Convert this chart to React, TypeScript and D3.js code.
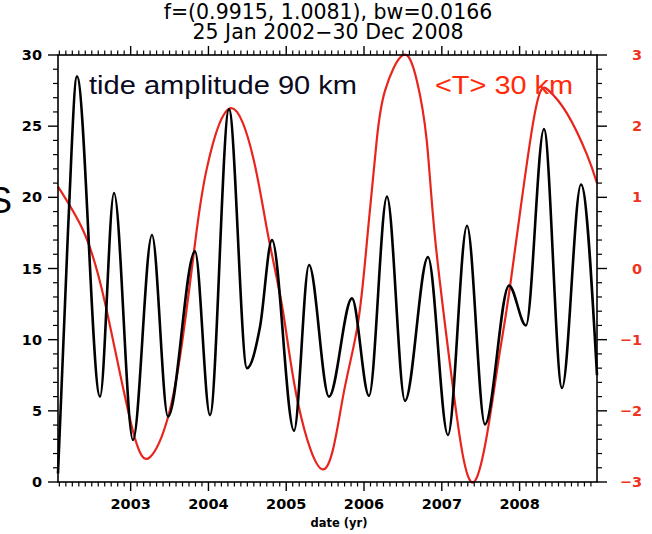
import React from "react";
import * as d3 from "d3";

// ---- data ----
const blackYears = [2002.066, 2002.195, 2002.310, 2002.606, 2002.786, 2003.030, 2003.274, 2003.480, 2003.827, 2004.020, 2004.264, 2004.496, 2004.663, 2004.817, 2005.100, 2005.293, 2005.550, 2005.845, 2006.064, 2006.295, 2006.527, 2006.822, 2007.079, 2007.324, 2007.555, 2007.864, 2008.082, 2008.313, 2008.545, 2008.789, 2008.995];
const tideAmplitude = [0.6, 17.7, 28.5, 6.0, 20.3, 2.95, 17.35, 4.6, 16.2, 4.7, 26.2, 8.0, 10.9, 17.0, 3.6, 15.25, 6.0, 12.9, 6.05, 20.05, 5.7, 15.8, 3.3, 18.0, 4.05, 13.8, 11.0, 24.8, 6.6, 20.9, 7.5];

const redYears = [2002.066, 2002.387, 2002.670, 2003.017, 2003.249, 2003.480, 2003.660, 2003.827, 2003.978, 2004.277, 2004.577, 2004.766, 2004.958, 2005.151, 2005.485, 2005.730, 2005.922, 2006.051, 2006.163, 2006.270, 2006.501, 2006.677, 2006.806, 2006.912, 2007.131, 2007.414, 2007.709, 2007.876, 2008.172, 2008.365, 2008.609, 2008.866, 2008.995];
const meanTemp = [1.15, 0.54, -0.48, -2.23, -2.65, -2.09, -1.05, 0.35, 1.4, 2.25, 1.55, 0.47, -0.6, -1.89, -2.82, -1.80, -0.77, 0.54, 1.8, 2.5, 3.0, 2.65, 1.8, 0.44, -1.57, -3.0, -1.43, -0.26, 2.04, 2.51, 2.18, 1.6, 1.2];

const leftTicks = [0, 5, 10, 15, 20, 25, 30];
const rightTicks = [-3, -2, -1, 0, 1, 2, 3];
const yearTicks = [2003, 2004, 2005, 2006, 2007, 2008];
const titleLines = ["f=(0.9915, 1.0081), bw=0.0166", "25 Jan 2002\u221230 Dec 2008"];
const xLabel = "date (yr)";
const leftLabel = "tide amplitude 90 km";
const rightLabel = "<T> 30 km";

export default function App() {
  const W = 652, H = 534;
  const L = 58, R = 597, T = 55, B = 482;
  const x = d3.scaleLinear().domain([2002.066, 2008.995]).range([L, R]);
  const yL = d3.scaleLinear().domain([0, 30]).range([B, T]);
  const yR = d3.scaleLinear().domain([-3, 3]).range([B, T]);

  const blackLine = d3.line<number>()
    .x((_, i) => x(blackYears[i]))
    .y((d) => yL(d))
    .curve(d3.curveMonotoneX)(tideAmplitude) || "";
  const redLine = d3.line<number>()
    .x((_, i) => x(redYears[i]))
    .y((d) => yR(d))
    .curve(d3.curveNatural)(meanTemp) || "";

  const monthTicks = d3.range(2002 * 12 + 1, 2009 * 12)
    .map((m) => m / 12)
    .filter((t) => t > 2002.066 && t < 2008.995 && Math.abs(t - Math.round(t)) > 1e-6);
  const leftMinor = d3.range(1, 30).filter((v) => v % 5 !== 0);
  const rightMinor = d3.range(-14, 15).map((k) => k / 5).filter((v) => Math.abs(v - Math.round(v)) > 1e-6);

  const tickFont = "'DejaVu Sans', Verdana, sans-serif";
  const red = "#ee3322";

  return (
    <svg width={W} height={H} style={{ position: "absolute", left: 0, top: 0, background: "#fff" }}>
      <rect x={0} y={0} width={W} height={H} fill="#fff" />
      {/* title */}
      {titleLines.map((t, i) => (
        <text key={i} x={328} y={19 + i * 20} textAnchor="middle" fontFamily={tickFont} fontSize={20.5} fill="#000">{t}</text>
      ))}
      {/* clipped left S */}
      <text x={12} y={213} textAnchor="end" fontFamily="'Liberation Sans', Arial, sans-serif" fontSize={36} fill="#000">S</text>

      {/* curves */}
      <path d={redLine} fill="none" stroke="#e8251c" strokeWidth={2.2} />
      <path d={blackLine} fill="none" stroke="#000" strokeWidth={2.6} />

      {/* frame */}
      <rect x={L} y={T} width={R - L} height={B - T} fill="none" stroke="#000" strokeWidth={1.6} />

      {/* bottom & top ticks */}
      {monthTicks.map((t, i) => (
        <g key={"m" + i}>
          <line x1={x(t)} x2={x(t)} y1={B} y2={B + 4.5} stroke="#000" strokeWidth={1.2} />
          <line x1={x(t)} x2={x(t)} y1={T} y2={T - 4.5} stroke="#000" strokeWidth={1.2} />
        </g>
      ))}
      {yearTicks.map((t) => (
        <g key={"y" + t}>
          <line x1={x(t)} x2={x(t)} y1={B} y2={B + 9} stroke="#000" strokeWidth={1.4} />
          <line x1={x(t)} x2={x(t)} y1={T} y2={T - 9} stroke="#000" strokeWidth={1.4} />
          <text x={x(t)} y={509} textAnchor="middle" fontFamily={tickFont} fontWeight="bold" fontSize={14.5} fill="#000">{t}</text>
        </g>
      ))}
      <text x={339} y={527} textAnchor="middle" fontFamily={tickFont} fontWeight="bold" fontSize={11.5} fill="#000">{xLabel}</text>

      {/* left axis */}
      {leftMinor.map((v) => (
        <line key={"lm" + v} x1={L} x2={L - 5} y1={yL(v)} y2={yL(v)} stroke="#000" strokeWidth={1.2} />
      ))}
      {leftTicks.map((v) => (
        <g key={"l" + v}>
          <line x1={L} x2={L - 10} y1={yL(v)} y2={yL(v)} stroke="#000" strokeWidth={1.4} />
          <text x={42} y={yL(v) + 5} textAnchor="end" fontFamily={tickFont} fontWeight="bold" fontSize={14.5} fill="#000">{v}</text>
        </g>
      ))}

      {/* right axis */}
      {rightMinor.map((v, i) => (
        <line key={"rm" + i} x1={R} x2={R + 5} y1={yR(v)} y2={yR(v)} stroke="#000" strokeWidth={1.2} />
      ))}
      {rightTicks.map((v) => (
        <g key={"r" + v}>
          <line x1={R} x2={R + 10} y1={yR(v)} y2={yR(v)} stroke="#000" strokeWidth={1.4} />
          <text x={642} y={yR(v) + 5} textAnchor="end" fontFamily={tickFont} fontWeight="bold" fontSize={14.5} fill={red}>{v < 0 ? "\u2212" + Math.abs(v) : String(v)}</text>
        </g>
      ))}

      {/* in-plot labels */}
      <text x={89} y={94} fontFamily="'Liberation Sans', Arial, sans-serif" fontSize={26} textLength={268} lengthAdjust="spacingAndGlyphs" fill="#0a0a1e">{leftLabel}</text>
      <text x={435} y={94} fontFamily="'Liberation Sans', Arial, sans-serif" fontSize={26} textLength={138} lengthAdjust="spacingAndGlyphs" fill="#ff2a0a">{rightLabel}</text>
    </svg>
  );
}
